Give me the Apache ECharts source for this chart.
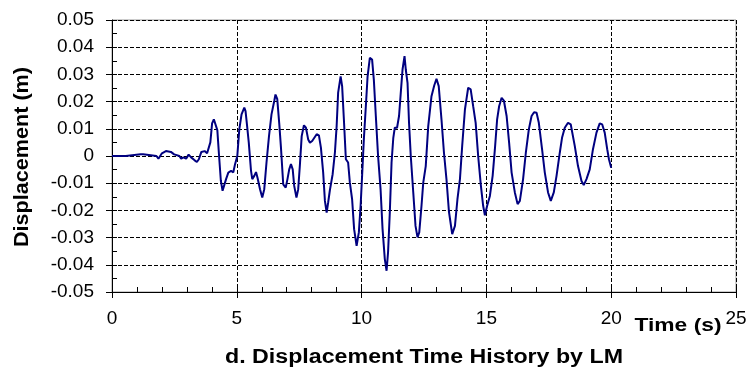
<!DOCTYPE html>
<html>
<head>
<meta charset="utf-8">
<script src="https://cdn.jsdelivr.net/npm/echarts@6/dist/echarts.min.js"></script>
<style>
  html, body { margin: 0; padding: 0; background: #fff; }
  #chart { width: 751px; height: 371px; }
</style>
</head>
<body>
<div id="chart"></div>
<script>
// time (s) and displacement (m)
const timeS = [
  0, 0.55, 0.6, 1.15, 1.2, 1.25, 1.4, 1.45, 1.78, 1.86, 2.0, 2.16, 2.22, 2.36, 2.49,
  2.7, 2.77, 2.86, 2.97, 3.07, 3.17, 3.3, 3.4, 3.48, 3.58, 3.71, 3.81, 3.89, 3.94,
  4.01, 4.08, 4.16, 4.22, 4.29, 4.36, 4.43, 4.48, 4.57, 4.66, 4.77, 4.86, 4.93,
  5.02, 5.1, 5.19, 5.3, 5.35, 5.4, 5.48, 5.57, 5.62, 5.7, 5.77, 5.83, 5.93,
  6.02, 6.1, 6.19, 6.29, 6.39, 6.5, 6.55, 6.62, 6.7, 6.77, 6.86, 6.96,
  7.03, 7.1, 7.17, 7.24, 7.3, 7.39, 7.46, 7.53, 7.6, 7.69, 7.77, 7.86, 7.93,
  8.02, 8.1, 8.2, 8.29, 8.37, 8.46, 8.53, 8.6, 8.66, 8.73, 8.84, 8.93,
  9.0, 9.06, 9.16, 9.22, 9.29, 9.37, 9.46, 9.53, 9.62, 9.7, 9.8, 9.89, 9.96,
  10.02, 10.09, 10.17, 10.24, 10.33, 10.42, 10.49, 10.57, 10.66, 10.76, 10.84, 10.93,
  11.0, 11.06, 11.13, 11.2, 11.27, 11.33, 11.42, 11.5, 11.57, 11.64, 11.72, 11.77, 11.84, 11.9, 11.97,
  12.07, 12.16, 12.24, 12.31, 12.4, 12.47, 12.57, 12.67, 12.8, 12.91,
  13.0, 13.09, 13.2, 13.3, 13.4, 13.5, 13.63, 13.74, 13.84, 13.94,
  14.03, 14.14, 14.2, 14.27, 14.37, 14.47, 14.57, 14.67, 14.78, 14.87, 14.94,
  15.03, 15.14, 15.25, 15.34, 15.43, 15.51, 15.61, 15.7, 15.81, 15.91,
  16.01, 16.14, 16.25, 16.34, 16.47, 16.58, 16.7, 16.81, 16.91,
  17.01, 17.1, 17.23, 17.34, 17.47, 17.58, 17.7, 17.81, 17.94,
  18.03, 18.14, 18.27, 18.38, 18.54, 18.67, 18.81, 18.9,
  19.01, 19.14, 19.27, 19.41, 19.54, 19.64, 19.74, 19.84, 19.91, 20.0
];
const dispM = [
  0, 0, 0.0006, 0.0006, 0.0002, 0.0006, 0.0005, 0, 0, -0.001, 0.001, 0.0018, 0.0021, 0.0015, 0.0006,
  0, -0.001, -0.0005, -0.001, 0.0005, -0.0005, -0.0015, -0.0022, -0.0012, 0.0015, 0.0018, 0.001, 0.0005, 0.005,
  0.012, 0.0135, 0.0135, 0.0095, 0.0, -0.009, -0.0128, -0.0125, -0.0085, -0.0061, -0.0055, -0.006, -0.003,
  0.0, 0.0098, 0.0153, 0.0178, 0.0165, 0.0122, 0.0049, -0.0055, -0.0085, -0.0073, -0.0059, -0.008, -0.0122,
  -0.0153, -0.0122, -0.0024, 0.0073, 0.0153, 0.0202, 0.0226, 0.021, 0.012, 0.003, -0.0104, -0.0116,
  -0.0085, -0.0049, -0.003, -0.0049, -0.011, -0.0153, -0.0122, -0.003, 0.0073, 0.0113, 0.0104, 0.0061, 0.0049,
  0.0055, 0.0049, 0.008, 0.0076, 0.0031, -0.006, -0.0165, -0.0208, -0.0171, -0.0125, -0.0067, 0.0012,
  0.011, 0.0233, 0.0293, 0.0257, 0.0135, -0.0012, -0.0024, -0.0098, -0.0159, -0.0269, -0.033, -0.0281, -0.0183,
  -0.0073, 0.0061, 0.0183, 0.0293, 0.0361, 0.0355, 0.0281, 0.0147, 0.0, -0.0122, -0.0269, -0.0379,
  -0.0422, -0.0354, -0.0208, -0.0024, 0.0067, 0.0104, 0.0104, 0.0147, 0.0233, 0.0318, 0.0367, 0.0318, 0.0269, 0.0122, 0.0,
  -0.0134, -0.0257, -0.0299, -0.0281, -0.0183, -0.0098, -0.0037, 0.011, 0.022, 0.0259,
  0.0284, 0.0257, 0.0135, 0.0012, -0.0085, -0.0205, -0.0287, -0.0257, -0.0159, -0.0085,
  0.0037, 0.0171, 0.0208, 0.0251, 0.0245, 0.0183, 0.0122, 0.0, -0.011, -0.0183, -0.0218,
  -0.0183, -0.0147, -0.0073, 0.0025, 0.0135, 0.0183, 0.0214, 0.0204, 0.0147, 0.0049,
  -0.0061, -0.0134, -0.0177, -0.0165, -0.0085, 0.0012, 0.0098, 0.0147, 0.0161,
  0.0159, 0.0122, 0.0025, -0.0061, -0.0134, -0.0165, -0.0134, -0.0073, 0.0012,
  0.0067, 0.0104, 0.0122, 0.0116, 0.0037, -0.0037, -0.0092, -0.0107,
  -0.0085, -0.0049, 0.0025, 0.0086, 0.012, 0.0116, 0.0086, 0.0025, -0.0012, -0.0043
];

const xTitle = "Time (s)";
const yTitle = "Displacement (m)";
const chartTitle = "d. Displacement Time History by LM";

const font = "'Liberation Sans', Arial, sans-serif";

const chart = echarts.init(document.getElementById("chart"));

const option = {
  animation: false,
  backgroundColor: "#fff",
  grid: {
    left: 112, top: 20, width: 624, height: 272,
    show: true, borderColor: "#999", borderWidth: 1
  },
  xAxis: [
    {
      type: "value", min: 0, max: 25, interval: 5, position: "bottom",
      axisLine: { onZero: false, lineStyle: { color: "#000", width: 1 } },
      axisTick: { length: 6, lineStyle: { color: "#000" } },
      axisLabel: { color: "#000", fontSize: 19, fontFamily: font, margin: 17 },
      splitLine: { show: true, lineStyle: { color: "#000", width: 1, type: "dashed" } }
    },
    {
      // minor ticks on the inside
      type: "value", min: 0, max: 25, interval: 1, position: "bottom",
      axisLine: { show: false, onZero: false },
      axisTick: { inside: true, length: 5, lineStyle: { color: "#000" } },
      axisLabel: { show: false },
      splitLine: { show: false }
    }
  ],
  yAxis: [
    {
      type: "value", min: -0.05, max: 0.05, interval: 0.01, position: "left",
      axisLine: { show: true, onZero: false, lineStyle: { color: "#000", width: 1 } },
      axisTick: { show: true, length: 6, lineStyle: { color: "#000" } },
      axisLabel: {
        color: "#000", fontSize: 19, fontFamily: font, margin: 18,
        formatter: v => Math.abs(v) < 1e-9 ? "0" : v.toFixed(2)
      },
      splitLine: { show: true, lineStyle: { color: "#000", width: 1, type: "dashed" } }
    },
    {
      type: "value", min: -0.05, max: 0.05, interval: 0.005, position: "left",
      axisLine: { show: false, onZero: false },
      axisTick: { show: true, inside: true, length: 5, lineStyle: { color: "#000" } },
      axisLabel: { show: false },
      splitLine: { show: false }
    }
  ],
  graphic: [
    {
      type: "text", x: 22, y: 157, rotation: Math.PI / 2, scaleX: 1.08,
      style: {
        text: yTitle, fill: "#000", fontSize: 20, fontWeight: "bold",
        fontFamily: font, align: "center", verticalAlign: "middle"
      }
    },
    {
      type: "text", x: 678, y: 326, scaleX: 1.2,
      style: {
        text: xTitle, fill: "#000", fontSize: 19, fontWeight: "bold",
        fontFamily: font, align: "center", verticalAlign: "middle"
      }
    },
    {
      type: "text", x: 424, y: 357, scaleX: 1.16,
      style: {
        text: chartTitle, fill: "#000", fontSize: 20, fontWeight: "bold",
        fontFamily: font, align: "center", verticalAlign: "middle"
      }
    }
  ],
  series: [
    {
      type: "line",
      xAxisIndex: 0, yAxisIndex: 0,
      showSymbol: false,
      z: 5,
      lineStyle: { color: "#000080", width: 2 },
      data: timeS.map((t, i) => [t, dispM[i]])
    }
  ]
};

chart.setOption(option);
</script>
</body>
</html>
